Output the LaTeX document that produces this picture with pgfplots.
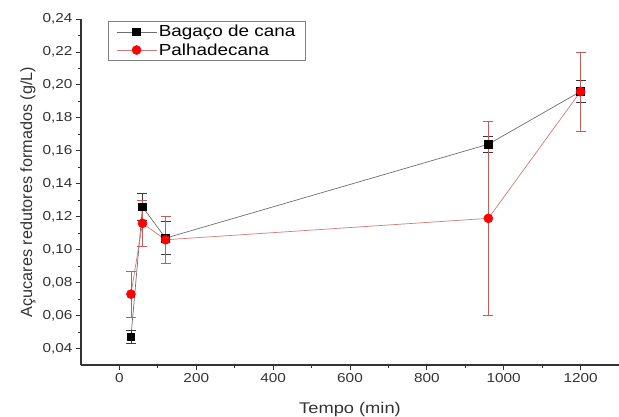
\documentclass[border=0pt]{standalone}
\usepackage{pgfplots}
\pgfplotsset{compat=1.18}
\usepackage{fontspec}
\setmainfont{Liberation Sans}
\newfontfamily\wideface{Liberation Sans}[FakeStretch=1.18]
\definecolor{LineGray}{HTML}{6E6E6E}
\definecolor{ErrGray}{HTML}{3A3A3A}
\definecolor{LineRed}{HTML}{D07A7A}
\definecolor{ErrRed}{HTML}{C85A5A}
\definecolor{TxtGray}{HTML}{333333}

\begin{document}
\begin{tikzpicture}[x=1pt,y=1pt]
  \path[use as bounding box] (-81,-51) rectangle (538,365);
  \begin{axis}[
      at={(0,0)}, anchor=south west,
      scale only axis,
      width=538pt, height=346pt,
      xmin=-100, xmax=1300,
      ymin=0.03, ymax=0.24,
      xtick={0,200,...,1200},
      ytick={0.04,0.06,...,0.241},
      minor x tick num=1,
      minor y tick num=1,
      axis x line*=bottom,
      axis y line*=left,
      axis line style={draw=TxtGray,line width=1.1pt,-},
      tick align=outside,
      major tick length=5pt,
      minor tick length=3pt,
      tick style={draw=TxtGray,line width=0.9pt},
      tick label style={font=\wideface\fontsize{13}{15}\selectfont,color=TxtGray},
      xticklabel style={/pgf/number format/1000 sep={}},
      yticklabel style={/pgf/number format/.cd,fixed,fixed zerofill,precision=2,use comma},
      /pgf/number format/assume math mode=true,
      scaled y ticks=false,
      xlabel={Tempo (min)},
      ylabel={Açucares redutores formados (g/L)},
      xlabel style={font=\wideface\fontsize{15.5}{17}\selectfont,color=TxtGray,
        at={(axis description cs:0.5,0)},anchor=base,yshift=-48pt},
      ylabel style={font=\fontsize{16.2}{18}\selectfont,color=TxtGray,
        at={(axis description cs:0,0.5)},anchor=south,yshift=42pt},
      legend style={at={(axis description cs:0.05,0.994)},anchor=north west,
        draw=gray,line width=0.6pt,font=\wideface\fontsize{16}{18}\selectfont,
        inner xsep=8pt,inner ysep=2pt,row sep=1pt,
        /tikz/every even column/.append style={column sep=4pt}},
      legend cell align=left,
      legend image code/.code={%
        \draw[mark repeat=2,mark phase=2,#1]
          plot coordinates {(0pt,0pt) (20pt,0pt) (40pt,0pt)};},
      clip=false]
    \addplot[color=LineGray,line width=0.7pt,
        mark=square*,mark size=3.8pt,mark options={fill=black,draw=black,solid},
        error bars/.cd,y dir=both,y explicit,
        error bar style={color=ErrGray,line width=0.6pt},
        error mark options={rotate=90,mark size=5pt,color=ErrGray,line width=0.6pt}]
      coordinates {
        (30,0.047) +- (0,0.004)
        (60,0.126) +- (0,0.008)
        (120,0.107) +- (0,0.010)
        (960,0.164) +- (0,0.005)
        (1200,0.196) +- (0,0.0065)
      };
    \addlegendentry{Bagaço de cana}
    \addplot[color=LineRed,line width=0.7pt,
        mark=*,mark size=4.4pt,mark options={fill=red,draw=red,solid},
        error bars/.cd,y dir=both,y explicit,
        error bar style={color=ErrRed,line width=0.6pt},
        error mark options={rotate=90,mark size=5pt,color=ErrRed,line width=0.6pt}]
      coordinates {
        (30,0.073) +- (0,0.014)
        (60,0.116) +- (0,0.014)
        (120,0.106) +- (0,0.014)
        (960,0.119) +- (0,0.059)
        (1200,0.196) +- (0,0.024)
      };
    \addlegendentry{Palhadecana}
  \end{axis}
\end{tikzpicture}
\end{document}
